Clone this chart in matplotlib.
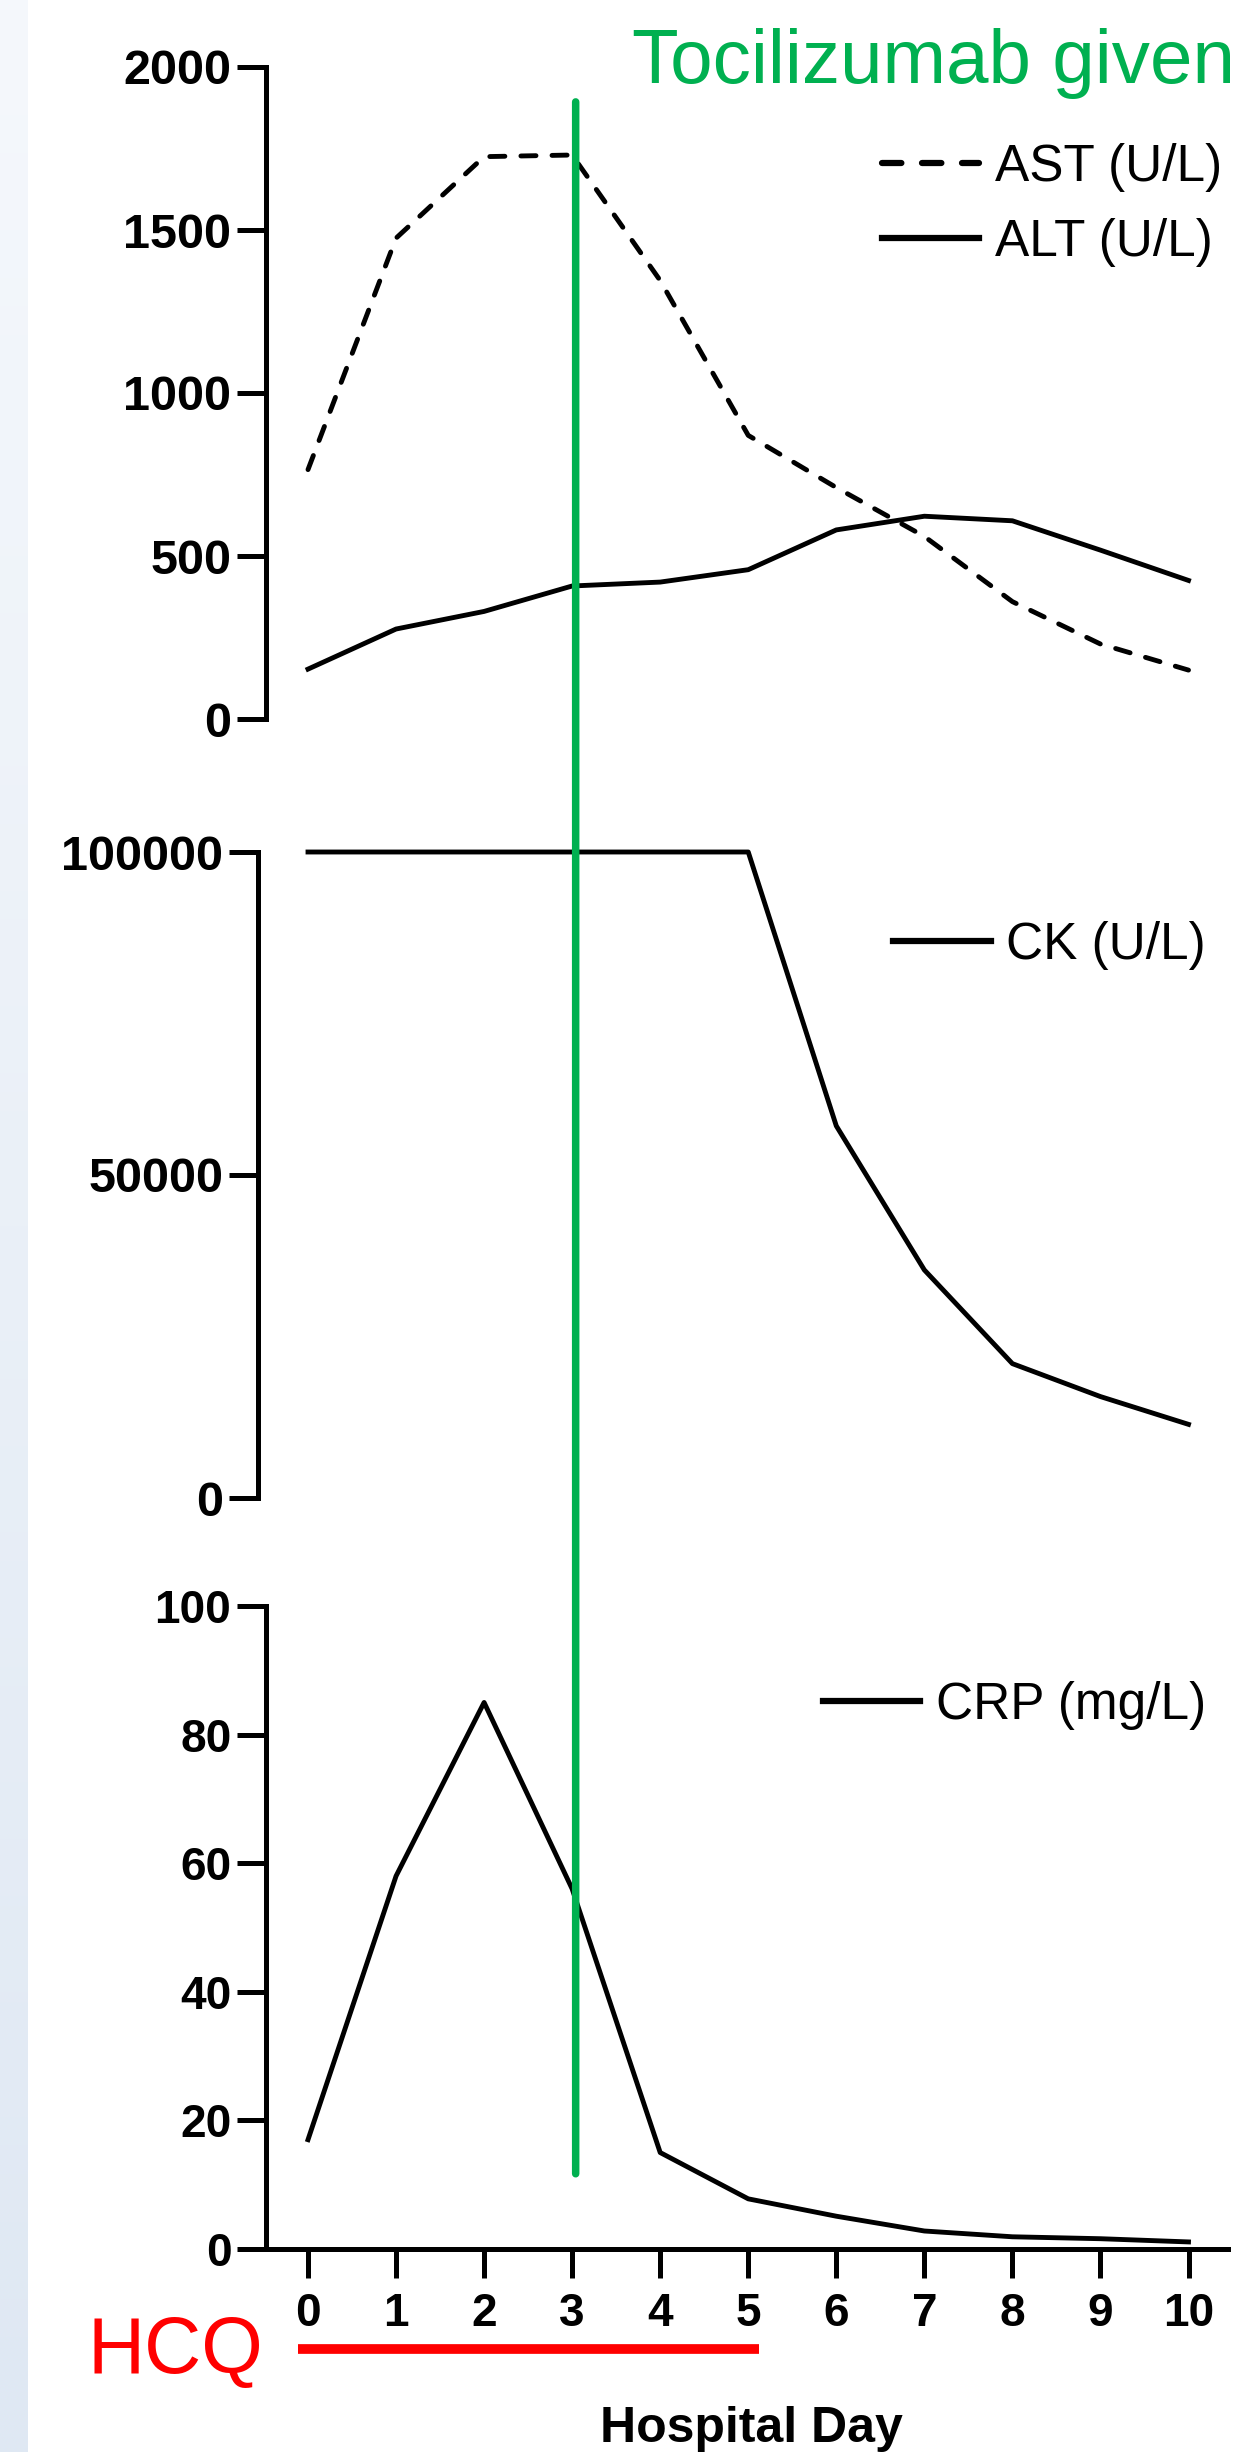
import numpy as np
import matplotlib
matplotlib.use("Agg")
from matplotlib import pyplot as plt
from matplotlib.patches import ConnectionPatch
from matplotlib.transforms import blended_transform_factory

plt.rcParams['font.family'] = ['Liberation Sans', 'DejaVu Sans']

days = list(range(11))
ast = [765, 1475, 1725, 1730, 1345, 870, 710, 560, 360, 230, 150]
alt = [153, 276, 330, 408, 420, 458, 580, 622, 608, 518, 425]
ck = [100000, 100000, 100000, 100000, 100000, 100000, 57600, 35300, 20800, 15700, 11400]
crp = [17, 58, 85, 56, 15, 7.8, 5.1, 2.8, 1.9, 1.6, 1.1]
tocilizumab_day = 3.04
hcq_days = (-0.11, 5.12)

W, H = 1251, 2452
fig = plt.figure(figsize=(W / 100, H / 100), dpi=100)

# light blue strip on the left edge
bg = fig.add_axes([0, 0, 28 / W, 1])
grad = np.linspace(0, 1, 256).reshape(-1, 1)
bg.imshow(grad, aspect='auto', cmap=matplotlib.colors.LinearSegmentedColormap.from_list(
    'strip', ['#F5F8FC', '#DFE8F3']), extent=(0, 1, 0, 1))
bg.axis('off')

day0_px, px_per_day, right_px = 308, 88.05, 1228


def make_axes(left, top, bottom):
    ax = fig.add_axes([left / W, 1 - bottom / H, (right_px - left) / W, (bottom - top) / H])
    ax.set_xlim((left - day0_px) / px_per_day, (right_px - day0_px) / px_per_day)
    for s in ('top', 'right'):
        ax.spines[s].set_visible(False)
    for s in ('left', 'bottom'):
        ax.spines[s].set_linewidth(3.6)
    ax.tick_params(axis='both', direction='out', length=21, width=3.6, pad=4)
    return ax


lw = 3.5
ax1 = make_axes(266, 67, 719)
ax1.plot(days, ast, color='black', lw=lw, dashes=(3.1, 3.3), dash_capstyle='round',
         label='AST (U/L)', clip_on=False)
ax1.plot(days, alt, color='black', lw=lw, label='ALT (U/L)', clip_on=False)
ax1.set_ylim(0, 2000)
ax1.set_yticks([0, 500, 1000, 1500, 2000])
ax1.spines['bottom'].set_visible(False)
ax1.set_xticks([])

ax2 = make_axes(258, 852, 1498)
ax2.plot(days, ck, color='black', lw=lw, label='CK (U/L)', clip_on=False)
ax2.set_ylim(0, 100000)
ax2.set_yticks([0, 50000, 100000])
ax2.spines['bottom'].set_visible(False)
ax2.set_xticks([])

ax3 = make_axes(266, 1606, 2249)
ax3.plot(days, crp, color='black', lw=lw, label='CRP (mg/L)', clip_on=False)
ax3.set_ylim(0, 100)
ax3.set_yticks([0, 20, 40, 60, 80, 100])
ax3.set_xticks(days)
ax3.tick_params(axis='x', pad=10)

for ax, size in ((ax1, 35), (ax2, 35), (ax3, 33)):
    for lbl in ax.get_yticklabels() + ax.get_xticklabels():
        lbl.set_fontweight('bold')
        lbl.set_fontsize(size)

ax3.set_xlabel('Hospital Day', fontsize=36, fontweight='bold')
ax3.xaxis.set_label_coords((751 - 266) / (right_px - 266), (2249 - 2406) / (2249 - 1606))


def legend(ax, right, ycenter):
    leg = ax.legend(loc='center right', bbox_to_anchor=(right / W, 1 - ycenter / H),
                    bbox_transform=fig.transFigure, frameon=False, fontsize=37,
                    handlelength=1.9, handletextpad=0.3, labelspacing=0.5,
                    borderpad=0, borderaxespad=0)
    for line in leg.get_lines():
        line.set_linewidth(4.5)
    return leg


legend(ax1, 1222, 205)
legend(ax2, 1206, 945)
legend(ax3, 1206, 1705)

# tocilizumab marker across all panels
con = ConnectionPatch(xyA=(tocilizumab_day, 1893), coordsA=ax1.transData,
                      xyB=(tocilizumab_day, 11.7), coordsB=ax3.transData,
                      color='#00B050', lw=5.4)
fig.add_artist(con)
fig.text(933 / W, 1 - 83 / H, 'Tocilizumab given', color='#00B050', fontsize=55,
         ha='center', va='baseline')

# HCQ course
trans = blended_transform_factory(ax3.transData, ax3.transAxes)
ax3.plot(hcq_days, [-0.156, -0.156], color='#FF0000', lw=7, transform=trans,
         clip_on=False, solid_capstyle='butt')
fig.text(175 / W, 1 - 2352 / H, 'HCQ', color='#FF0000', fontsize=57, ha='center', va='center')

fig.savefig('out.png', dpi=100, facecolor='white')
